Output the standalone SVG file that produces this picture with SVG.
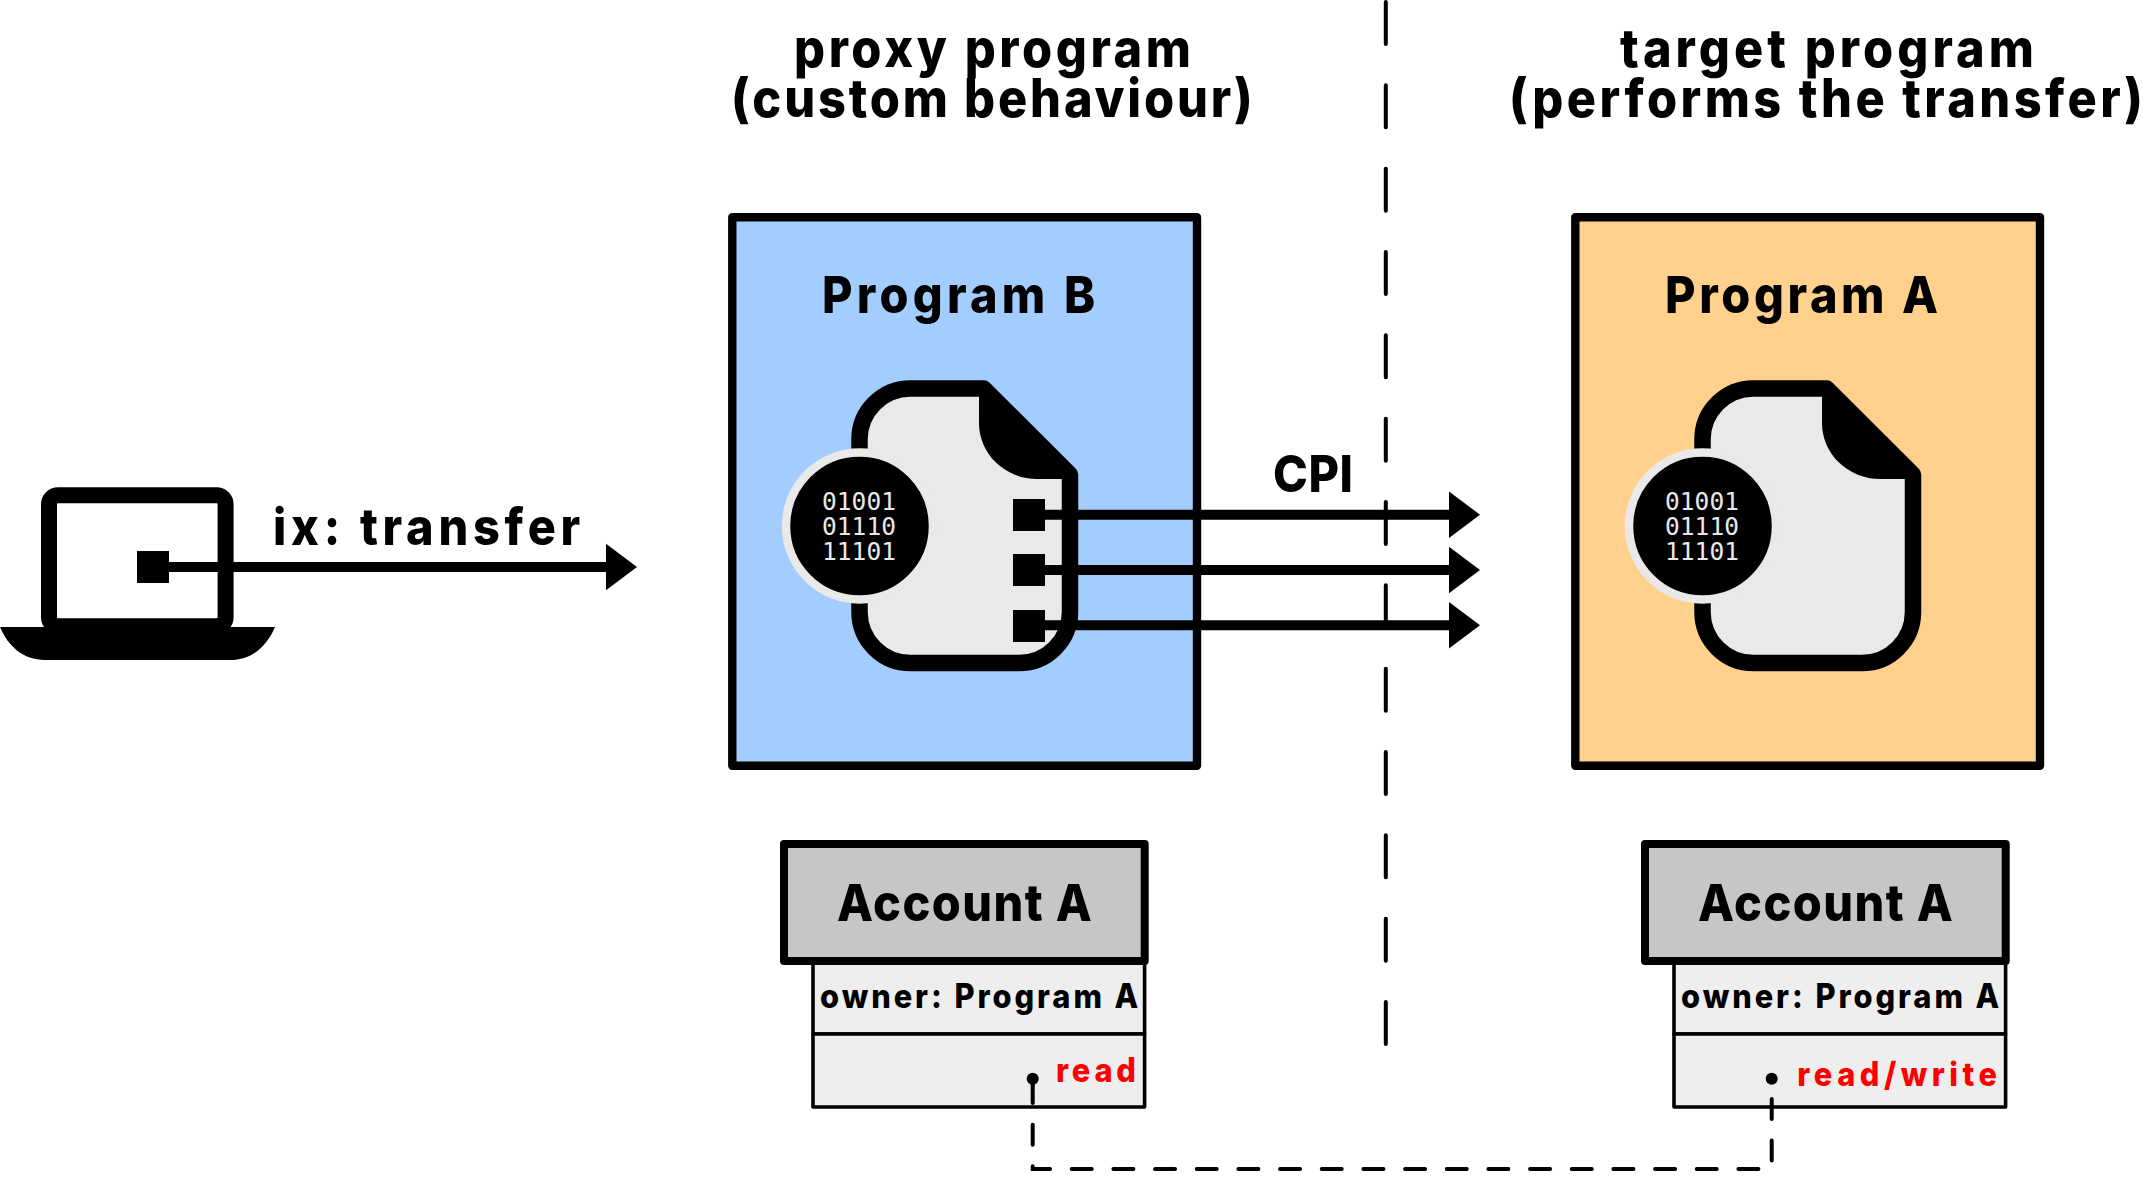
<svg xmlns="http://www.w3.org/2000/svg" width="2143" height="1187" viewBox="0 0 2143 1187">
<style>
text{font-family:"Inter","Liberation Sans",sans-serif;font-weight:800;fill:#000}
.t{font-size:53px}.n{font-size:51px}.o{font-size:33.5px}.r{font-size:33.5px;fill:#f00}
.b{font-family:"DejaVu Sans Mono","Liberation Mono",monospace;font-weight:400;font-size:24.5px;fill:#e9e9e9}
.box{stroke:#000;stroke-width:8.4;stroke-linejoin:round}
.doc{fill:#e9e9e9;stroke:#000;stroke-width:16.5;stroke-linejoin:round}
.head{fill:#c6c6c6;stroke:#000;stroke-width:8;stroke-linejoin:round}
.cell{fill:#eee;stroke:#000;stroke-width:3.6;stroke-linejoin:round}
.w{stroke:#000;stroke-width:10;fill:none}
.d{stroke:#000;stroke-width:4;fill:none;stroke-linecap:round}
</style>
<defs>
<g id="file">
<path class="doc" d="M910.5 388.5H983.8L1070 474.7V612A51 51 0 0 1 1019 663H910.5A51 51 0 0 1 859.5 612V439.5A51 51 0 0 1 910.5 388.5Z"/>
<path d="M979 386V423A58 56 0 0 0 1037 479H1068V472L986 386Z" fill="#000"/>
<circle cx="859.5" cy="526" r="73.5" fill="#000" stroke="#e9e9e9" stroke-width="8.5"/>
<text class="b" x="822" y="510" textLength="74">01001</text>
<text class="b" x="822" y="535" textLength="74">01110</text>
<text class="b" x="822" y="560" textLength="74">11101</text>
</g>
<polygon id="ah" points="0,-23.3 31,0 0,23.3" fill="#000"/>
</defs>
<g id="title-proxy">
<text class="t" transform="translate(794 67) scale(.92 1)" textLength="431.5" lengthAdjust="spacing">proxy program</text>
<text class="t" transform="translate(731 117) scale(.92 1)" textLength="567" lengthAdjust="spacing">(custom behaviour)</text>
</g>
<g id="title-target">
<text class="t" transform="translate(1620 67) scale(.92 1)" textLength="450" lengthAdjust="spacing">target program</text>
<text class="t" transform="translate(1509 117) scale(.92 1)" textLength="689" lengthAdjust="spacing">(performs the transfer)</text>
</g>
<g id="laptop">
<rect x="49" y="495.3" width="176.6" height="131" rx="9" fill="#fff" stroke="#000" stroke-width="16"/>
<path d="M0 627H275C267 646 252 660 230 660H45C23 660 8 646 0 627Z" fill="#000"/>
</g>
<g id="program-b">
<rect class="box" x="732.3" y="217.3" width="464.7" height="548.5" fill="#a3ccff"/>
<text class="n" transform="translate(822 313) scale(.92 1)" textLength="297" lengthAdjust="spacing">Program B</text>
<use href="#file"/>
</g>
<g id="program-a">
<rect class="box" x="1575.3" y="217.3" width="464.7" height="548.5" fill="#ffd18c"/>
<text class="n" transform="translate(1665 313) scale(.92 1)" textLength="297" lengthAdjust="spacing">Program A</text>
<use href="#file" x="843"/>
</g>
<g id="account-proxy">
<rect class="cell" x="813" y="961" width="331.6" height="73"/>
<rect class="cell" x="813" y="1034" width="331.6" height="73"/>
<rect class="head" x="784" y="844" width="360.7" height="117"/>
<text class="n" transform="translate(837 921) scale(.92 1)" textLength="277" lengthAdjust="spacing">Account A</text>
<text class="o" transform="translate(820 1007.7) scale(.92 1)" textLength="346" lengthAdjust="spacing">owner: Program A</text>
<text class="r" transform="translate(1056 1081.7) scale(.92 1)" textLength="87" lengthAdjust="spacing">read</text>
</g>
<g id="account-target">
<rect class="cell" x="1674" y="961" width="331.6" height="73"/>
<rect class="cell" x="1674" y="1034" width="331.6" height="73"/>
<rect class="head" x="1645" y="844" width="360.7" height="117"/>
<text class="n" transform="translate(1698 921) scale(.92 1)" textLength="277" lengthAdjust="spacing">Account A</text>
<text class="o" transform="translate(1681 1007.7) scale(.92 1)" textLength="346" lengthAdjust="spacing">owner: Program A</text>
<text class="r" transform="translate(1797.3 1086) scale(.92 1)" textLength="217" lengthAdjust="spacing">read/write</text>
</g>
<g id="connectors">
<path class="d" d="M1385.8 2V1046" stroke-dasharray="42 41.33"/>
<rect x="137" y="551" width="32" height="32" fill="#000"/>
<path class="w" d="M169 567H607"/>
<use href="#ah" x="606" y="567"/>
<rect x="1013" y="499" width="32" height="32" fill="#000"/>
<rect x="1013" y="554" width="32" height="32" fill="#000"/>
<rect x="1013" y="610" width="32" height="32" fill="#000"/>
<path class="w" d="M1045 514.7H1450M1045 570H1450M1045 625.3H1450"/>
<use href="#ah" x="1449" y="514.7"/>
<use href="#ah" x="1449" y="570"/>
<use href="#ah" x="1449" y="625.3"/>
<path class="d" d="M1032.7 1083V1169H1771.7V1083" stroke-dasharray="20 21.67"/>
<path class="d" d="M1032.7 1078V1085" />
<circle cx="1032.7" cy="1078.7" r="6" fill="#000"/>
<circle cx="1771.7" cy="1078.7" r="6" fill="#000"/>
<text class="n" transform="translate(273 544.7) scale(.92 1)" textLength="334" lengthAdjust="spacing">ix: transfer</text>
<text class="n" transform="translate(1273 491.7) scale(.92 1)" textLength="87" lengthAdjust="spacing">CPI</text>
</g>
</svg>
